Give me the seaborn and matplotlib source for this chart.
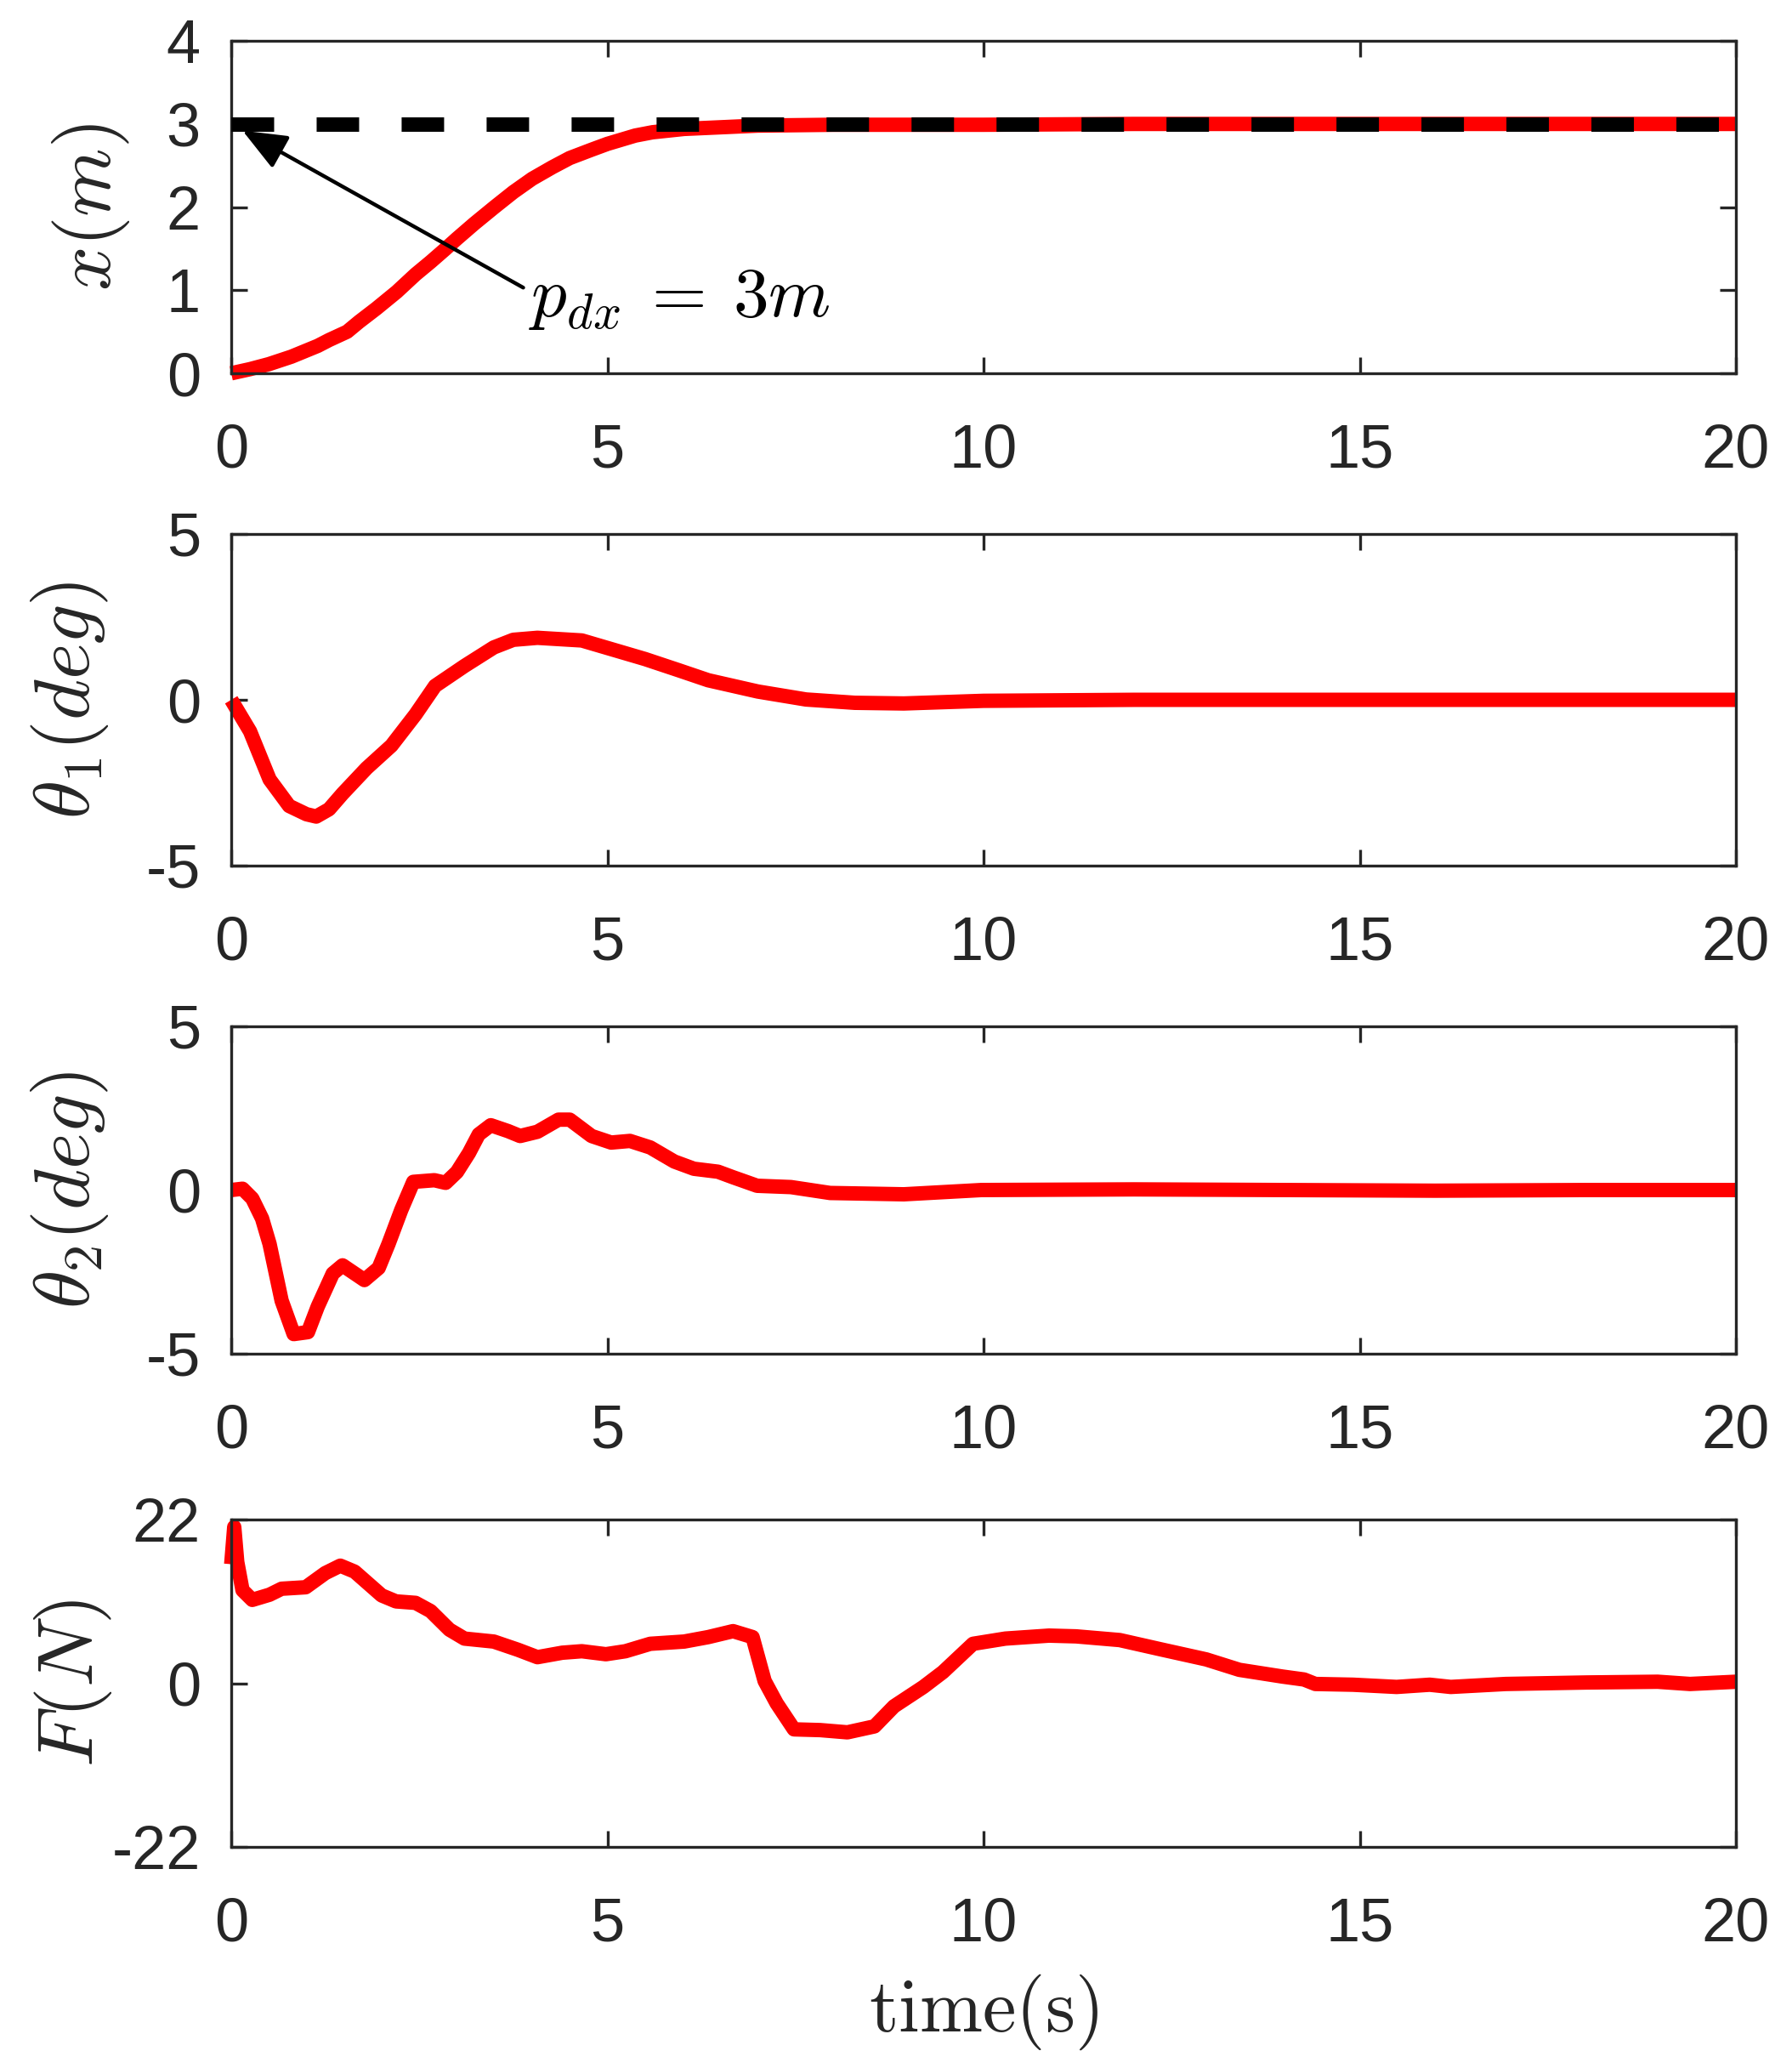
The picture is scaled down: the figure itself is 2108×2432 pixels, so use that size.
import matplotlib
matplotlib.use("Agg")
import matplotlib.pyplot as plt
import seaborn as sns
import pandas as pd

# ---- data ----
t_x = [0, 0.25, 0.5, 0.8, 1.15, 1.3, 1.54, 1.7, 1.93, 2.2, 2.45, 2.65, 2.84, 3.0, 3.23,
       3.5, 3.75, 4.0, 4.27, 4.5, 4.79, 5.0, 5.37, 5.6, 6.02, 7.0, 8.0, 10, 12, 14, 16, 18, 20]
x_pos = [0.0, 0.05, 0.11, 0.2, 0.33, 0.4, 0.5, 0.62, 0.78, 0.98, 1.19, 1.34, 1.49, 1.62, 1.80,
         2.0, 2.18, 2.34, 2.48, 2.59, 2.69, 2.76, 2.86, 2.9, 2.94, 2.98, 2.99, 2.99, 3.0, 3.0, 3.0, 3.0, 3.0]
x_ref = 3.0

t_th1 = [0, 0.25, 0.51, 0.77, 1.0, 1.13, 1.3, 1.48, 1.8, 2.13, 2.45, 2.71, 3.1, 3.49, 3.75,
         4.07, 4.66, 5.05, 5.5, 5.95, 6.34, 7.0, 7.64, 8.29, 8.94, 10, 12, 14, 16, 18, 20]
theta1 = [0, -0.95, -2.4, -3.2, -3.45, -3.52, -3.3, -2.83, -2.06, -1.38, -0.44, 0.42, 1.02, 1.58, 1.81,
          1.87, 1.79, 1.53, 1.23, 0.89, 0.59, 0.25, 0.01, -0.09, -0.11, -0.03, 0.0, 0.0, 0.0, 0.0, 0.0]

t_th2 = [0, 0.15, 0.28, 0.41, 0.51, 0.67, 0.83, 1.02, 1.15, 1.35, 1.48, 1.77, 1.96, 2.09, 2.26,
         2.42, 2.7, 2.85, 3.0, 3.16, 3.29, 3.45, 3.68, 3.84, 4.07, 4.35, 4.5, 4.79, 5.05, 5.3,
         5.57, 5.89, 6.15, 6.47, 6.67, 6.99, 7.44, 7.96, 8.94, 9.97, 12, 14, 16, 18, 20]
theta2 = [0, 0.04, -0.26, -0.87, -1.65, -3.38, -4.4, -4.34, -3.56, -2.55, -2.3, -2.75, -2.38, -1.65, -0.61,
          0.25, 0.3, 0.22, 0.55, 1.13, 1.7, 1.98, 1.8, 1.65, 1.78, 2.15, 2.15, 1.65, 1.45, 1.5,
          1.3, 0.87, 0.65, 0.56, 0.39, 0.13, 0.09, -0.09, -0.13, 0.0, 0.02, 0.0, -0.02, 0.0, 0.0]

t_f = [0, 0.04, 0.08, 0.15, 0.28, 0.51, 0.67, 0.99, 1.25, 1.45, 1.64, 2.0, 2.19, 2.45, 2.65,
       2.9, 3.1, 3.49, 3.81, 4.07, 4.4, 4.66, 4.98, 5.24, 5.57, 6.02, 6.34, 6.67, 6.93, 7.09,
       7.25, 7.48, 7.83, 8.19, 8.55, 8.81, 9.2, 9.46, 9.86, 10.29, 10.87, 11.23, 11.81, 12.38, 12.96,
       13.4, 13.97, 14.26, 14.41, 14.91, 15.49, 15.93, 16.21, 16.94, 18.02, 18.96, 19.39, 20]
force = [16.0, 21.0, 16.3, 12.5, 11.2, 11.9, 12.7, 12.9, 14.8, 15.8, 15.0, 11.8, 11.0, 10.8, 9.7,
         7.2, 6.0, 5.6, 4.5, 3.5, 4.1, 4.3, 3.9, 4.3, 5.3, 5.6, 6.2, 7.0, 6.2, 0.3,
         -2.7, -6.2, -6.3, -6.6, -5.8, -3.1, -0.5, 1.5, 5.3, 6.0, 6.4, 6.3, 5.8, 4.5, 3.2,
         1.8, 0.9, 0.5, -0.1, -0.2, -0.5, -0.2, -0.5, -0.1, 0.1, 0.2, -0.1, 0.2]

x_ticks = [0, 5, 10, 15, 20]
panels = [
    (t_x, x_pos, r'$x(m)$', (0, 4), [0, 1, 2, 3, 4], -0.066),
    (t_th1, theta1, r'$\theta_1(deg)$', (-5, 5), [-5, 0, 5], -0.080),
    (t_th2, theta2, r'$\theta_2(deg)$', (-5, 5), [-5, 0, 5], -0.080),
    (t_f, force, r'$F(N)$', (-22, 22), [-22, 0, 22], -0.078),
]

sns.set_style("ticks")
plt.rcParams['font.family'] = ['Liberation Sans', 'DejaVu Sans']
plt.rcParams['mathtext.fontset'] = 'cm'
plt.rcParams['axes.unicode_minus'] = False

axcol = '#262626'
W, H = 2108, 2432
fig = plt.figure(figsize=(W / 200, H / 200), dpi=200)

# axes boxes in pixels: (top, bottom)
boxes = [(48, 439), (628, 1018), (1207, 1592), (1787, 2172)]
left_px, right_px = 272, 2042

for i, (t, y, lab, ylim, yt, lx) in enumerate(panels):
    top, bot = boxes[i]
    ax = fig.add_axes([left_px / W, 1 - bot / H, (right_px - left_px) / W, (bot - top) / H])
    df = pd.DataFrame({'t': t, 'v': y})
    sns.lineplot(data=df, x='t', y='v', ax=ax, color='#ff0000', lw=6.1,
                 solid_capstyle='butt', solid_joinstyle='round', clip_on=False,
                 sort=False, estimator=None)
    if i == 0:
        ref = pd.DataFrame({'t': [0, 20], 'v': [x_ref, x_ref]})
        sns.lineplot(data=ref, x='t', y='v', ax=ax, color='black', lw=6.1,
                     linestyle=(0, (2.95, 2.95)), clip_on=False, zorder=3)
        ax.annotate(r'$p_{dx}\:=\:3m$', xy=(0.15, 2.92), xytext=(3.95, 0.9),
                    fontsize=30, va='center', ha='left', color='black',
                    arrowprops=dict(arrowstyle='-|>,head_length=0.8,head_width=0.33',
                                    color='black', lw=1.6,
                                    mutation_scale=20, shrinkA=0, shrinkB=0,
                                    relpos=(0, 0.62)))
    ax.set_xlim(0, 20)
    ax.set_ylim(*ylim)
    ax.set_xticks(x_ticks)
    ax.set_yticks(yt)
    ax.set_xlabel('')
    ax.set_ylabel(lab, fontsize=33, color=axcol)
    ax.yaxis.set_label_coords(lx, 0.5)
    for s in ax.spines.values():
        s.set_visible(True)
        s.set_linewidth(1.2)
        s.set_color(axcol)
    ax.tick_params(axis='both', which='both', direction='in', top=True, right=True,
                   length=7, width=1.2, color=axcol, labelcolor=axcol, labelsize=26)
    ax.tick_params(axis='x', pad=21)
    ax.tick_params(axis='y', pad=13)
    if i == 3:
        ax.set_xlabel(r'$\mathrm{time(s)}$', fontsize=32, color=axcol, labelpad=8)

fig.savefig('out.png', dpi=200, facecolor='white')
